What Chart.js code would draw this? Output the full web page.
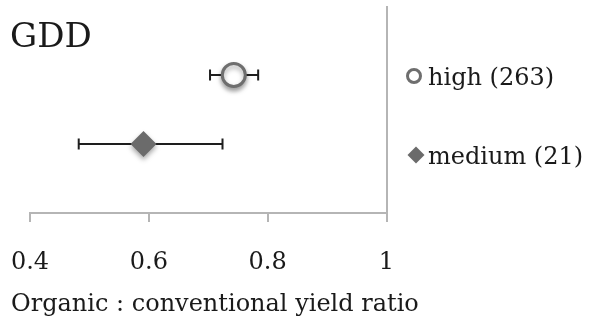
<!DOCTYPE html>
<html>
<head>
<meta charset="utf-8">
<script src="https://cdn.jsdelivr.net/npm/chart.js@4/dist/chart.umd.min.js"></script>
<style>
  html, body { margin: 0; padding: 0; background: #ffffff; }
  #wrap { width: 593px; height: 329px; }
</style>
</head>
<body>
<div id="wrap"><canvas id="c" width="593" height="329"></canvas></div>
<script>
// ---- data ----
const chartTitle = 'GDD';
const axisTitle = 'Organic : conventional yield ratio';
const categories = ['high (263)', 'medium (21)'];
const ratioMean  = [0.743, 0.591];
const ratioLower = [0.703, 0.482];
const ratioUpper = [0.784, 0.724];
const rowPosition = [2, 1];
const xTicks = [0.4, 0.6, 0.8, 1];
const xTickLabels = ['0.4', '0.6', '0.8', '1'];

const AXIS_GREY = '#b5b5b5';
const TEXT = '#1a1a1a';
const SERIF = '"DejaVu Serif", serif';

const errorBars = {
  id: 'errorBars',
  beforeDatasetsDraw(chart) {
    const ctx = chart.ctx, xs = chart.scales.x, ys = chart.scales.y;
    ctx.save();
    ctx.strokeStyle = '#1e1e1e';
    ctx.lineWidth = 2;
    for (let i = 0; i < categories.length; i++) {
      const y = ys.getPixelForValue(rowPosition[i]);
      const x0 = xs.getPixelForValue(ratioLower[i]);
      const x1 = xs.getPixelForValue(ratioUpper[i]);
      ctx.beginPath();
      ctx.moveTo(x0, y); ctx.lineTo(x1, y);
      ctx.moveTo(x0, y - 5.5); ctx.lineTo(x0, y + 5.5);
      ctx.moveTo(x1, y - 5.5); ctx.lineTo(x1, y + 5.5);
      ctx.stroke();
    }
    ctx.restore();
    // soft shadow for the markers
    ctx.save();
    ctx.shadowColor = 'rgba(0,0,0,0.35)';
    ctx.shadowBlur = 5;
    ctx.shadowOffsetY = 3;
  },
  afterDatasetsDraw(chart) {
    chart.ctx.restore();
  }
};

const extraText = {
  id: 'extraText',
  afterDraw(chart) {
    const ctx = chart.ctx;
    ctx.save();
    ctx.fillStyle = TEXT;
    ctx.textBaseline = 'alphabetic';
    ctx.textAlign = 'left';
    ctx.font = '34px ' + SERIF;
    ctx.fillText(chartTitle, 10, 47);
    // legend
    ctx.font = '24px ' + SERIF;
    const ds = chart.data.datasets;
    const legendY = [76, 155];
    const legendTextY = [85, 164];
    for (let i = 0; i < ds.length; i++) {
      const d = ds[i];
      ctx.save();
      if (d.pointStyle === 'circle') {
        ctx.beginPath();
        ctx.arc(414, legendY[i], 6.5, 0, Math.PI * 2);
        ctx.fillStyle = d.backgroundColor;
        ctx.fill();
        ctx.lineWidth = 3;
        ctx.strokeStyle = d.borderColor;
        ctx.stroke();
      } else {
        const cx = 416, cy = legendY[i], r = 8.5;
        ctx.beginPath();
        ctx.moveTo(cx - r, cy); ctx.lineTo(cx, cy - r);
        ctx.lineTo(cx + r, cy); ctx.lineTo(cx, cy + r);
        ctx.closePath();
        ctx.fillStyle = d.backgroundColor;
        ctx.fill();
      }
      ctx.restore();
      ctx.fillText(d.label, 428, legendTextY[i]);
    }
    ctx.restore();
  }
};

new Chart(document.getElementById('c'), {
  type: 'scatter',
  data: {
    datasets: [
      {
        label: categories[0],
        data: [{ x: ratioMean[0], y: rowPosition[0] }],
        pointStyle: 'circle',
        pointRadius: 11.5,
        pointHoverRadius: 11.5,
        borderWidth: 3,
        borderColor: '#6e6e6e',
        backgroundColor: '#ffffff'
      },
      {
        label: categories[1],
        data: [{ x: ratioMean[1], y: rowPosition[1] }],
        pointStyle: 'rectRot',
        pointRadius: 13,
        pointHoverRadius: 13,
        borderWidth: 0,
        borderColor: '#6b6b6b',
        backgroundColor: '#6b6b6b'
      }
    ]
  },
  options: {
    responsive: false,
    animation: false,
    events: [],
    layout: { autoPadding: false, padding: { left: 11, top: 6, right: 0, bottom: 0 } },
    plugins: {
      legend: { display: false },
      tooltip: { enabled: false },
      title: { display: false },
      subtitle: {
        display: true,
        position: 'bottom',
        align: 'start',
        text: axisTitle,
        color: TEXT,
        font: { family: SERIF, size: 24, weight: 'normal' },
        padding: { top: 0, bottom: 10 }
      }
    },
    scales: {
      x: {
        type: 'linear',
        position: 'bottom',
        min: 0.4,
        max: 1,
        afterBuildTicks: s => { s.ticks = xTicks.map(v => ({ value: v })); },
        afterFit: s => { s.height = 77.2; s.paddingLeft = 0; s.paddingRight = 0; },
        ticks: {
          color: TEXT,
          font: { family: SERIF, size: 24 },
          padding: 26,
          maxRotation: 0,
          callback: (v, i) => xTickLabels[i]
        },
        grid: {
          display: true,
          drawOnChartArea: true,
          drawTicks: true,
          tickLength: 9,
          lineWidth: 2,
          color: c => (c.tick && c.tick.value === 1) ? AXIS_GREY : 'rgba(0,0,0,0)',
          tickColor: AXIS_GREY,
          tickWidth: 2
        },
        border: { display: true, color: AXIS_GREY, width: 2 }
      },
      y: {
        type: 'linear',
        position: 'left',
        min: 0,
        max: 3,
        afterFit: s => { s.width = 19; s.paddingTop = 0; s.paddingBottom = 0; },
        ticks: { display: false },
        grid: { display: false },
        border: { display: false }
      },
      yRight: {
        type: 'linear',
        position: 'right',
        min: 0,
        max: 3,
        afterFit: s => { s.width = 206.5; s.paddingTop = 0; s.paddingBottom = 0; },
        ticks: { display: false },
        grid: { display: false },
        border: { display: false }
      }
    }
  },
  plugins: [errorBars, extraText]
});
</script>
</body>
</html>
